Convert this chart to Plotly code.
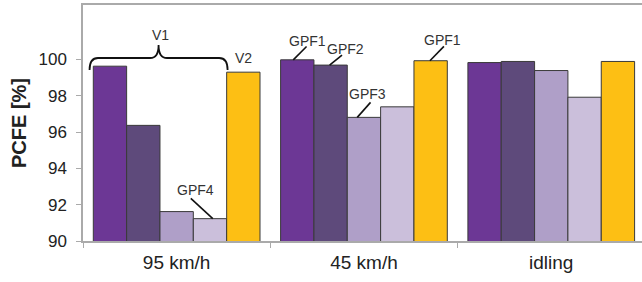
import plotly.graph_objects as go

categories = ["95 km/h", "45 km/h", "idling"]
series_names = ["V1-GPF1", "V1-GPF2", "V1-GPF3", "V1-GPF4", "V2-GPF1"]
gpf1_v1 = [99.63, 99.98, 99.83]
gpf2_v1 = [96.37, 99.69, 99.89]
gpf3_v1 = [91.62, 96.81, 99.39]
gpf4_v1 = [91.23, 97.39, 97.92]
gpf1_v2 = [99.30, 99.93, 99.89]
series_values = [gpf1_v1, gpf2_v1, gpf3_v1, gpf4_v1, gpf1_v2]
colors = ["#6C3795", "#5E4A7B", "#AF9FC8", "#CBBFDB", "#FDBF14"]
y_ticks = [90, 92, 94, 96, 98, 100]

BARGAP = 0.11
n = len(series_values)
bw = (1 - BARGAP) / n
PX_X = 187.4   # pixels per category unit
PX_Y = 18.15   # pixels per y unit

def bar_x(cat_idx, s_idx):
    return cat_idx + (s_idx - (n - 1) / 2) * bw

FONT = "Liberation Sans, Arial"
fig = go.Figure()
for name, vals, col in zip(series_names, series_values, colors):
    fig.add_trace(go.Bar(
        x=categories, y=vals, name=name,
        marker=dict(color=col, line=dict(color="#3a3a3a", width=1)),
        showlegend=False, hoverinfo="skip",
    ))

# leader-line labels: text, category, series, start dx(px), line vector (px), text offset (px)
labels = [
    ("GPF1", 1, 0, -4.0, (13.3, -13.3), (14.0, -19.3)),
    ("GPF2", 1, 1, -1.0, (12.4, -10.0), (15.7, -15.7)),
    ("GPF3", 1, 2, -6.7, (13.3, -15.0), (10.0, -23.3)),
    ("GPF1", 1, 4, -0.7, (14.0, -14.3), (12.4, -20.3)),
    ("GPF4", 0, 3, 2.8, (-22.0, -20.3), (-17.0, -28.3)),
]
for txt, ci, si, dx, (lx, ly), (tx, ty) in labels:
    xs = bar_x(ci, si) + dx / PX_X
    ys = series_values[si][ci]
    xe = xs + lx / PX_X
    ye = ys - ly / PX_Y
    fig.add_shape(type="path", xref="x", yref="y",
                  path=f"M {xs},{ys} L {xe},{ye}",
                  line=dict(color="#111111", width=1.6), layer="above")
    fig.add_annotation(x=xs + tx / PX_X, y=ys - ty / PX_Y, xref="x", yref="y",
                       text=txt, showarrow=False,
                       font=dict(family=FONT, size=14, color="#333"))

# brace over V1 bars in first group
x0 = bar_x(0, 0) - bw / 2 - 0.02
x1 = bar_x(0, 4) - bw / 2 + 0.005
xm = (x0 + x1) / 2
y0, yh, yc = 99.42, 100.08, 100.80
r = 0.045
path = (f"M {x0},{y0} Q {x0},{yh} {x0 + r},{yh} L {xm - r},{yh} "
        f"Q {xm},{yh} {xm},{yc} Q {xm},{yh} {xm + r},{yh} "
        f"L {x1 - r},{yh} Q {x1},{yh} {x1},{y0}")
fig.add_shape(type="path", path=path, xref="x", yref="y",
              line=dict(color="#111", width=1.8))
fig.add_annotation(x=xm + 0.01, y=101.35, xref="x", yref="y", text="V1", showarrow=False,
                   font=dict(family=FONT, size=14, color="#333"))
fig.add_annotation(x=bar_x(0, 4), y=100.08, xref="x", yref="y", text="V2", showarrow=False,
                   font=dict(family=FONT, size=14, color="#333"))

fig.update_layout(
    width=642, height=282,
    margin=dict(l=83, r=0, t=5, b=41),
    paper_bgcolor="white", plot_bgcolor="white",
    barmode="group", bargap=BARGAP, bargroupgap=0,
    font=dict(family=FONT, color="#222"),
    hovermode=False,
)
fig.update_xaxes(
    range=[-0.5, 2.4845], showline=True, linecolor="#aaaaaa", linewidth=1.5,
    mirror=True, ticks="outside", tickson="boundaries", ticklen=5, tickcolor="#aaaaaa",
    tickfont=dict(size=19, color="#222"), showgrid=False, automargin=False,
    ticklabelstandoff=3,
)
fig.update_yaxes(
    range=[90, 103], tickvals=y_ticks, showline=True, linecolor="#aaaaaa", linewidth=1.5,
    ticks="outside", ticklen=5, tickcolor="#aaaaaa", showgrid=False, zeroline=False,
    tickfont=dict(size=17, color="#222"), ticklabelstandoff=6, automargin=False,
    title=dict(text="<b>PCFE [%]</b>", font=dict(size=20, color="#222"), standoff=6),
)
fig.write_html("out.html", config={"displayModeBar": False},
               post_script="document.body.style.margin='0';")
